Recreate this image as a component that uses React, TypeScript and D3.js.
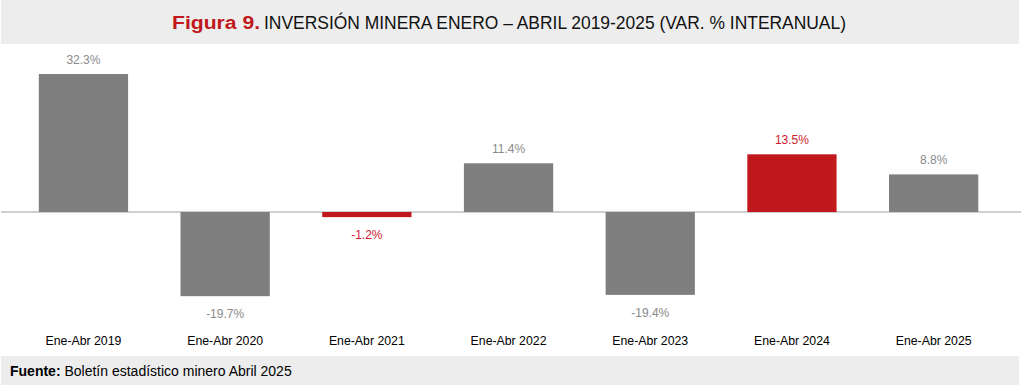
import React from "react";
import * as d3 from "d3";

const categories = ["Ene-Abr 2019", "Ene-Abr 2020", "Ene-Abr 2021", "Ene-Abr 2022", "Ene-Abr 2023", "Ene-Abr 2024", "Ene-Abr 2025"];
const values = [32.3, -19.7, -1.2, 11.4, -19.4, 13.5, 8.8];
const highlight = [false, false, true, false, false, true, false];
const valueLabels = ["32.3%", "-19.7%", "-1.2%", "11.4%", "-19.4%", "13.5%", "8.8%"];
const titleBold = "Figura 9.";
const titleRest = "INVERSIÓN MINERA ENERO – ABRIL 2019-2025 (VAR. % INTERANUAL)";
const sourceBold = "Fuente:";
const sourceRest = " Boletín estadístico minero Abril 2025";

const W = 1021;
const H = 386;

export default function App() {
  const x = d3.scaleBand<string>().domain(categories).range([12.6, 1004.5]).paddingInner(0.37).paddingOuter(0.185);
  const y = d3.scaleLinear().domain([0, 32.3]).range([212, 74]);
  const gray = "#7F7F7F";
  const red = "#C0181C";
  const font = "'Liberation Sans', Arial, sans-serif";
  return (
    <svg width={W} height={H} style={{ position: "absolute", left: 0, top: 0, background: "#fff" }} fontFamily={font}>
      <rect x={1} y={0} width={1018} height={44} fill="#EDEDED" />
      <text x={172} y={29} fontSize={18} fill={red} fontWeight="bold" textLength={88} lengthAdjust="spacingAndGlyphs">{titleBold}</text>
      <text x={264} y={29} fontSize={17.5} fill="#111" textLength={582} lengthAdjust="spacingAndGlyphs">{titleRest}</text>
      <line x1={1} x2={1021} y1={y(0)} y2={y(0)} stroke="#BFBFBF" strokeWidth={1.5} />
      {categories.map((c, i) => {
        const v = values[i];
        const x0 = x(c)!;
        const top = y(Math.max(0, v));
        const bot = y(Math.min(0, v));
        const cx = x0 + x.bandwidth() / 2;
        return (
          <g key={c}>
            <rect x={x0} y={top} width={x.bandwidth()} height={bot - top} fill={highlight[i] ? red : gray} />
            <text x={cx} y={v >= 0 ? top - 10 : bot + 22} textAnchor="middle" fontSize={12} fill={highlight[i] ? "#D01A30" : "#8A8A8A"}>
              {valueLabels[i]}
            </text>
            <text x={cx} y={345} textAnchor="middle" fontSize={12.3} fill="#000">{c}</text>
          </g>
        );
      })}
      <rect x={1} y={356} width={1018} height={29} fill="#EDEDED" />
      <text x={10} y={376} fontSize={14} fill="#000">
        <tspan fontWeight="bold">{sourceBold}</tspan>
        <tspan>{sourceRest}</tspan>
      </text>
    </svg>
  );
}
